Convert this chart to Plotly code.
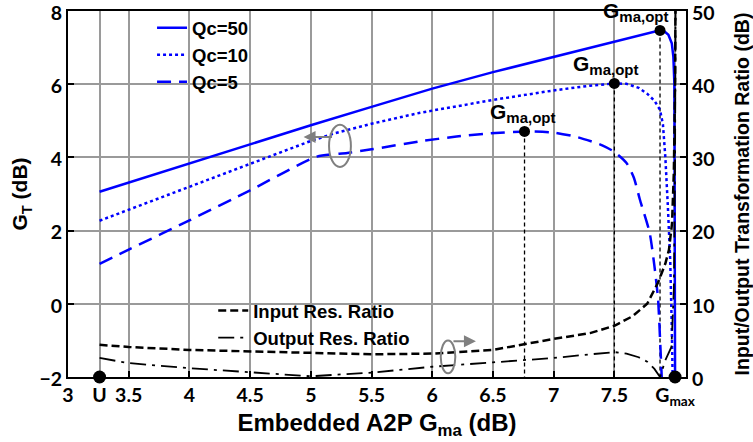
import plotly.graph_objects as go

# ---------------- data ----------------
x_qc50 = [3.26, 3.5, 4.0, 4.5, 5.0, 5.5, 6.0, 6.5, 7.0, 7.5, 7.7, 7.876, 7.91, 7.945, 7.973, 7.986, 7.994, 7.998, 8.0]
g_qc50 = [3.06, 3.31, 3.84, 4.36, 4.88, 5.38, 5.88, 6.33, 6.75, 7.16, 7.32, 7.47, 7.45, 7.35, 7.12, 6.75, 6.04, 3.0, -2.0]

x_qc10 = [3.26, 4.0, 4.5, 5.0, 5.2, 5.5, 5.9, 6.2, 6.5, 7.0, 7.3, 7.5, 7.6, 7.7, 7.77, 7.83, 7.876, 7.9, 7.92, 7.94, 7.96, 7.972, 7.98]
g_qc10 = [2.27, 3.2, 3.83, 4.45, 4.66, 4.92, 5.22, 5.4, 5.57, 5.83, 5.96, 6.02, 6.01, 5.9, 5.74, 5.55, 5.3, 4.9, 4.0, 2.7, 1.2, -0.5, -2.0]

x_qc5 = [3.26, 3.5, 4.0, 4.5, 5.05, 5.3, 5.5, 5.9, 6.2, 6.45, 6.76, 7.0, 7.2, 7.4, 7.5, 7.6, 7.66, 7.71, 7.79, 7.83, 7.86, 7.88, 7.89]
g_qc5 = [1.09, 1.48, 2.28, 3.1, 4.02, 4.12, 4.22, 4.44, 4.57, 4.65, 4.71, 4.68, 4.55, 4.33, 4.15, 3.85, 3.45, 2.85, 1.95, 1.03, 0.13, -1.24, -2.0]

x_in = [3.26, 3.5, 4.0, 4.5, 5.0, 5.5, 6.0, 6.5, 7.0, 7.3, 7.5, 7.65, 7.77, 7.86, 7.92, 7.95, 7.975, 7.99, 8.0, 8.005]
r_in = [4.4, 4.1, 3.7, 3.5, 3.2, 3.1, 3.2, 3.7, 5.2, 6.0, 7.0, 8.3, 10.0, 12.9, 15.5, 17.4, 21.0, 28.0, 40.0, 55.0]

x_out = [3.26, 3.5, 4.0, 4.5, 5.0, 5.5, 6.0, 6.5, 7.0, 7.3, 7.5, 7.6, 7.7, 7.77, 7.83, 7.876, 7.92, 7.97, 7.99, 8.0, 8.005]
r_out = [2.6, 1.9, 1.2, 0.7, 0.1, 0.6, 1.4, 2.0, 2.6, 3.1, 3.4, 3.2, 2.7, 2.1, 1.1, 0.0, 2.3, 4.1, 12.0, 30.0, 55.0]

x_opt = [6.76, 7.5, 7.876]
g_opt = [4.71, 6.02, 7.47]
opt_main = "G"
opt_sub = "ma,opt"

x_u = 3.26
x_gmax = 8.0
g_floor = -2

x_tickvals = [3, 3.26, 3.5, 4, 4.5, 5, 5.5, 6, 6.5, 7, 7.5, 8.0]
x_ticktext = ["3", "U", "3.5", "4", "4.5", "5", "5.5", "6", "6.5", "7", "7.5", "G<sub>max</sub>"]
y_left_ticks = [-2, 0, 2, 4, 6, 8]
y_right_ticks = [0, 10, 20, 30, 40, 50]

series_names = ["Qc=50", "Qc=10", "Qc=5", "Input Res. Ratio", "Output Res. Ratio"]

# ---------------- figure ----------------
BLUE = "#0000ff"
GRAY = "#808080"
FONT = "Liberation Sans"
TICKFONT = "Lato"

fig = go.Figure()

# vertical dashed guide lines from each optimum down to the floor
for xo, go_ in zip(x_opt, g_opt):
    fig.add_trace(go.Scatter(x=[xo, xo], y=[go_, g_floor], mode="lines",
                             line=dict(color="black", width=1.3, dash="4px,3px"),
                             showlegend=False, hoverinfo="skip"))

fig.add_trace(go.Scatter(x=x_in, y=r_in, yaxis="y2", mode="lines", name=series_names[3],
                         line=dict(color="black", width=2.5, dash="8px,4px"), legend="legend2"))
fig.add_trace(go.Scatter(x=x_out, y=r_out, yaxis="y2", mode="lines", name=series_names[4],
                         line=dict(color="black", width=1.8, dash="16px,6px,3px,6px"), legend="legend2"))

fig.add_trace(go.Scatter(x=x_qc50, y=g_qc50, mode="lines", name=series_names[0],
                         line=dict(color=BLUE, width=2.5), legend="legend"))
fig.add_trace(go.Scatter(x=x_qc10, y=g_qc10, mode="lines", name=series_names[1],
                         line=dict(color=BLUE, width=2.5, dash="3px,3px"), legend="legend"))
fig.add_trace(go.Scatter(x=x_qc5, y=g_qc5, mode="lines", name=series_names[2],
                         line=dict(color=BLUE, width=2.5, dash="14px,8px", shape="spline", smoothing=0.6),
                         legend="legend"))

fig.add_trace(go.Scatter(x=x_opt, y=g_opt, mode="markers",
                         marker=dict(color="black", size=11), showlegend=False, hoverinfo="skip"))
fig.add_trace(go.Scatter(x=[x_u, x_gmax], y=[g_floor, g_floor], mode="markers",
                         marker=dict(color="black", size=13), showlegend=False,
                         cliponaxis=False, hoverinfo="skip"))

# labels at optima (left edge offsets in pixels)
opt_text = "<b>" + opt_main + "<sub><span style='font-size:15px'>" + opt_sub + "</span></sub></b>"
for xo, go_, xs in zip(x_opt, g_opt, [-37, -43, -59]):
    fig.add_annotation(x=xo, y=go_, text=opt_text, showarrow=False,
                       xanchor="left", yanchor="bottom", xshift=xs, yshift=3,
                       font=dict(family=FONT, size=21, color="black"))

# gray rotation symbols (axis indicators)
fig.add_shape(type="circle", xref="x", yref="y", x0=5.15, x1=5.33, y0=3.74, y1=4.89,
              line=dict(color=GRAY, width=2))
fig.add_annotation(x=4.94, y=4.56, ax=30, ay=0, axref="pixel", ayref="pixel",
                   xref="x", yref="y", text="", showarrow=True, arrowhead=2,
                   arrowsize=1.2, arrowwidth=2, arrowcolor=GRAY)
fig.add_shape(type="circle", xref="x", yref="y", x0=6.07, x1=6.19, y0=-1.9, y1=-1.0,
              line=dict(color=GRAY, width=2))
fig.add_annotation(x=6.36, y=-1.02, ax=-24, ay=0, axref="pixel", ayref="pixel",
                   xref="x", yref="y", text="", showarrow=True, arrowhead=2,
                   arrowsize=1.2, arrowwidth=2, arrowcolor=GRAY)

axis_common = dict(ticks="inside", ticklen=6, tickwidth=2, tickcolor="black",
                   showline=True, linewidth=2, linecolor="black", zeroline=False,
                   automargin=False, ticklabeloverflow="allow",
                   tickfont=dict(family=TICKFONT, size=19.5, color="black", weight="bold"))

fig.update_layout(
    width=753, height=442,
    margin=dict(l=68, r=67, t=11, b=65, autoexpand=False),
    plot_bgcolor="white", paper_bgcolor="white",
    font=dict(family=FONT, color="black"),
    xaxis=dict(range=[3, 8.09], tickmode="array", tickvals=x_tickvals, ticktext=x_ticktext,
               mirror=True, showgrid=True, gridcolor="#9a9a9a", gridwidth=1.5,
               title=dict(text="<b>Embedded A2P G<sub>ma</sub> (dB)</b>",
                          font=dict(family=FONT, size=24), standoff=6),
               **axis_common),
    yaxis=dict(range=[-2, 8], tickmode="array", tickvals=y_left_ticks, ticklabelshift=2,
               showgrid=True, gridcolor="#9a9a9a", gridwidth=1.5,
               title=dict(text="<b>G<sub>T</sub> (dB)</b>", font=dict(family=FONT, size=21), standoff=6),
               **axis_common),
    yaxis2=dict(range=[0, 50], overlaying="y", side="right", tickmode="array",
                tickvals=y_right_ticks, showgrid=False, ticklabelshift=2,
                title=dict(text="<b>Input/Output Transformation Ratio (dB)</b>",
                           font=dict(family=FONT, size=19.5), standoff=22),
                **axis_common),
    legend=dict(x=0.136, y=1.005, xanchor="left", yanchor="top", bgcolor="rgba(0,0,0,0)",
                font=dict(family=FONT, size=18.5, color="black", weight="bold"),
                tracegroupgap=0, traceorder="normal"),
    legend2=dict(x=0.235, y=0.232, xanchor="left", yanchor="top", bgcolor="rgba(0,0,0,0)",
                 font=dict(family=FONT, size=18.5, color="black", weight="bold"),
                 tracegroupgap=0, traceorder="normal"),
    showlegend=True,
)

fig.write_html("out.html")
